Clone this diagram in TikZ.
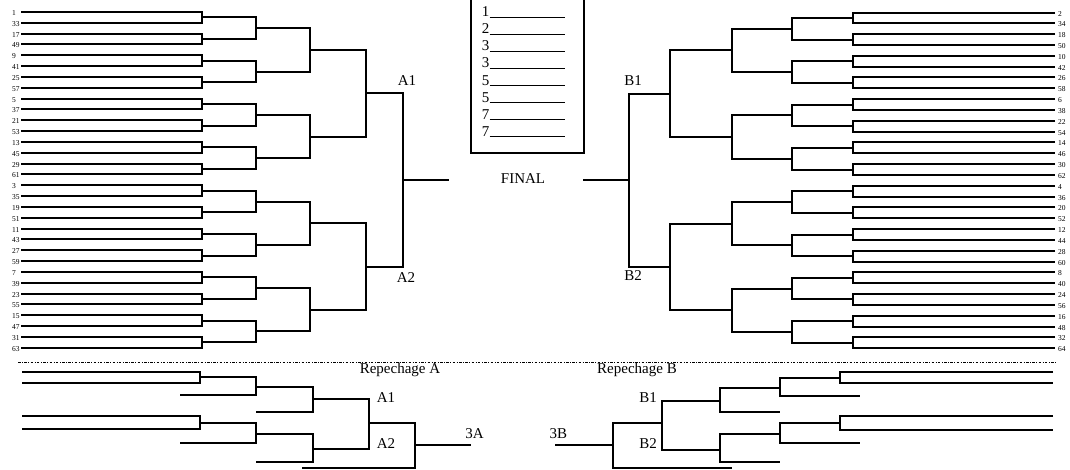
\documentclass[tikz,border=0pt]{standalone}
\usepackage{fontspec}
\setmainfont{Liberation Serif}
\begin{document}
\begin{tikzpicture}[x=1pt,y=-1pt,
  br/.style={line width=1.8pt},
  rp/.style={line width=1.6pt},
  seed/.style={font=\fontsize{7.5}{8}\selectfont, anchor=west, inner sep=0pt},
  lab/.style={font=\fontsize{15}{17}\selectfont, inner sep=0pt},
  uline/.style={line width=0.8pt},
  sep/.style={line width=0.7pt, dash pattern=on 2.5pt off 1.5pt on 0.8pt off 1.5pt}]
\useasboundingbox (0,0) rectangle (1070,470);
\clip (0,0) rectangle (1070,470);
% ---------- left bracket ----------
\foreach \s [count=\i from 0] in {1,33,17,49,9,41,25,57,5,37,21,53,13,45,29,61,3,35,19,51,11,43,27,59,7,39,23,55,15,47,31,63} {
  \pgfmathsetmacro\yy{round(12+10.83*\i)}
  \coordinate (L0-\i) at (21,\yy);
  \node[seed] (ls\i) at (12,\yy+0.8) {\s};
}
\foreach \r/\xr/\n in {1/202/16, 2/256/8, 3/310/4, 4/366/2, 5/403/1} {
  \pgfmathtruncatemacro\p{\r-1}
  \pgfmathtruncatemacro\last{\n-1}
  \foreach \j in {0,...,\last} {
    \pgfmathtruncatemacro\a{2*\j}
    \pgfmathtruncatemacro\b{2*\j+1}
    \pgfmathsetmacro\yy{round(12+10.83*(\j*2^\r+(2^\r-1)/2))}
    \coordinate (L\r-\j) at (\xr,\yy);
    \draw[br] (L\p-\a) -| (L\r-\j) |- (L\p-\b);
  }
}
\coordinate (LF) at (449,180);
\draw[br] (L5-0) -- (LF);
% ---------- right bracket ----------
\foreach \s [count=\i from 0] in {2,34,18,50,10,42,26,58,6,38,22,54,14,46,30,62,4,36,20,52,12,44,28,60,8,40,24,56,16,48,32,64} {
  \pgfmathsetmacro\yy{round(12.5+10.83*\i)}
  \coordinate (R0-\i) at (1055,\yy);
  \node[seed] (rs\i) at (1058,\yy+0.8) {\s};
}
\foreach \r/\xr/\n in {1/853/16, 2/792/8, 3/732/4, 4/670/2, 5/629/1} {
  \pgfmathtruncatemacro\p{\r-1}
  \pgfmathtruncatemacro\last{\n-1}
  \foreach \j in {0,...,\last} {
    \pgfmathtruncatemacro\a{2*\j}
    \pgfmathtruncatemacro\b{2*\j+1}
    \pgfmathsetmacro\yy{round(12.5+10.83*(\j*2^\r+(2^\r-1)/2))}
    \coordinate (R\r-\j) at (\xr,\yy);
    \draw[br] (R\p-\a) -| (R\r-\j) |- (R\p-\b);
  }
}
\coordinate (RF) at (583,180);
\draw[br] (R5-0) -- (RF);
% ---------- labels ----------
\node[lab] (A1) at (407,81) {A1};
\node[lab] (A2) at (406,277.5) {A2};
\node[lab] (B1) at (633,81) {B1};
\node[lab] (B2) at (633,275.5) {B2};
\node[lab] (final) at (523,178.5) {FINAL};
% ---------- ranking box ----------
\draw[line width=1.6pt] (471,-5) -- (471,153) -- (584,153) -- (584,-5);
\foreach \t [count=\i from 0] in {1,2,3,3,5,5,7,7} {
  \pgfmathsetmacro\yy{16.7+17.1*\i}
  \node[lab, anchor=base west] (rk\i) at (481.7,\yy) {\t};
  \draw[uline] ([yshift=-0.4pt]rk\i.base east) -- ++(75.5,0);
}
% ---------- separator ----------
\coordinate (sepL) at (18,362.5);
\coordinate (sepR) at (1057,362.5);
\draw[sep] (sepL) -- (sepR);
\node[lab] (repA) at (400,369.5) {Repechage A};
\node[lab] (repB) at (637,369.5) {Repechage B};
% ---------- repechage A ----------
\coordinate (ra1) at (22,372);
\coordinate (ra2) at (22,383);
\coordinate (ja1) at (200,377);
\coordinate (ra3) at (180,395);
\coordinate (ja2) at (256,387);
\coordinate (ra4) at (256,412);
\coordinate (ja3) at (313,399);
\coordinate (rb1) at (22,416);
\coordinate (rb2) at (22,429);
\coordinate (jb1) at (200,423);
\coordinate (rb3) at (180,443);
\coordinate (jb2) at (256,434);
\coordinate (rb4) at (256,462);
\coordinate (jb3) at (313,449);
\coordinate (jm) at (369,423);
\coordinate (rc) at (302,468);
\coordinate (jn) at (415,445);
\coordinate (o3A) at (471,445);
\draw[rp] (ra1) -| (ja1) |- (ra2);
\draw[rp] (ja1) -| (ja2) |- (ra3);
\draw[rp] (ja2) -| (ja3) |- (ra4);
\draw[rp] (rb1) -| (jb1) |- (rb2);
\draw[rp] (jb1) -| (jb2) |- (rb3);
\draw[rp] (jb2) -| (jb3) |- (rb4);
\draw[rp] (ja3) -| (jm) |- (jb3);
\draw[rp] (jm) -| (jn) |- (rc);
\draw[rp] (jn) -- (o3A);
\node[lab] (rA1) at (386,398) {A1};
\node[lab] (rA2) at (386,443.3) {A2};
\node[lab] (l3A) at (474.5,433.5) {3A};
% ---------- repechage B ----------
\coordinate (sa1) at (1053,372);
\coordinate (sa2) at (1053,383);
\coordinate (ka1) at (840,378);
\coordinate (sa3) at (860,396);
\coordinate (ka2) at (780,388);
\coordinate (sa4) at (780,412);
\coordinate (ka3) at (720,401);
\coordinate (sb1) at (1053,416);
\coordinate (sb2) at (1053,430);
\coordinate (kb1) at (840,423);
\coordinate (sb3) at (860,443);
\coordinate (kb2) at (780,434);
\coordinate (sb4) at (780,462);
\coordinate (kb3) at (720,450);
\coordinate (km) at (662,423);
\coordinate (sc) at (732,468);
\coordinate (kn) at (613,445);
\coordinate (o3B) at (555,445);
\draw[rp] (sa1) -| (ka1) |- (sa2);
\draw[rp] (ka1) -| (ka2) |- (sa3);
\draw[rp] (ka2) -| (ka3) |- (sa4);
\draw[rp] (sb1) -| (kb1) |- (sb2);
\draw[rp] (kb1) -| (kb2) |- (sb3);
\draw[rp] (kb2) -| (kb3) |- (sb4);
\draw[rp] (ka3) -| (km) |- (kb3);
\draw[rp] (km) -| (kn) |- (sc);
\draw[rp] (kn) -- (o3B);
\node[lab] (rB1) at (648,397.7) {B1};
\node[lab] (rB2) at (648,443.3) {B2};
\node[lab] (l3B) at (558.3,433.5) {3B};
\end{tikzpicture}
\end{document}
